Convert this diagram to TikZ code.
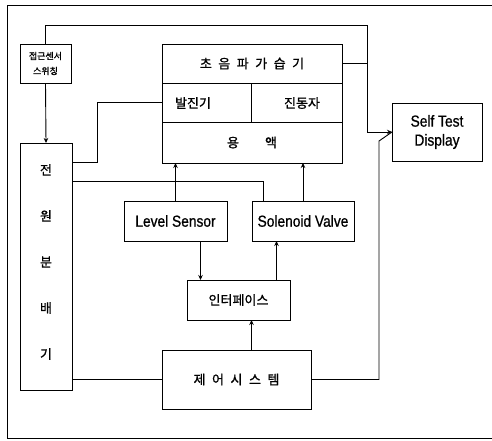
\documentclass[tikz,border=0pt]{standalone}
\usepackage{fontspec}
\setmainfont{Liberation Sans}[FakeStretch=0.86, FakeBold=0.8]
\newfontfamily\kr{Noto Sans CJK KR}[FakeBold=1]
\usetikzlibrary{arrows.meta,calc}

\tikzset{
  blk/.style={draw, line width=0.9pt, inner sep=0pt, outer sep=0pt},
  lbl/.style={font=\fontsize{16}{19}\selectfont, align=center},
  krl/.style={font=\kr\fontsize{13}{15}\selectfont, align=center},
  wire/.style={line width=0.9pt},
  arr/.style={wire, -{Stealth[length=5pt,width=4.5pt]}}
}

\begin{document}
\begin{tikzpicture}[x=1pt, y=-1pt]

    \useasboundingbox (0,0) rectangle (492,440);

    % Outer frame
    \draw[wire] (492,5) -- (7,5) -- (7,438) -- (492,438);

    % Left column: sensor switch and power distributor
    \node[blk, minimum width=51, minimum height=39, krl,
          font=\kr\fontsize{9}{15}\selectfont] (sw) at (45.5,63.5) {접근센서\\스위칭};
    \node[blk, minimum width=52, minimum height=247] (pwr) at (46,266.5) {};
    \node[krl] (pwrtxt) at (46,262) {전\\[31pt]원\\[31pt]분\\[31pt]배\\[31pt]기};

    % Humidifier block
    \node[blk, minimum width=180, minimum height=39, krl] (hum) at (252,63.5) {초\enspace 음\enspace 파\enspace 가\enspace 습\enspace 기};
    \node[blk, minimum width=89, minimum height=39] (osc) at (206.5,102.5) {};
    \node[blk, minimum width=91, minimum height=39] (vib) at (296.5,102.5) {};
    \node[blk, minimum width=180, minimum height=41, krl] (liq) at (252,142.5) {용\hspace{2em}액};
    \node[krl] (osctxt) at (193,103) {발진기};
    \node[krl] (vibtxt) at (302,103) {진동자};

    % Sensor, valve, interface, control
    \node[blk, minimum width=103, minimum height=40, lbl] (level) at (175.5,221) {Level Sensor};
    \node[blk, minimum width=102, minimum height=40, lbl] (valve) at (303,221) {Solenoid Valve};
    \node[blk, minimum width=103, minimum height=40, krl] (iface) at (238.5,300) {인터페이스};
    \node[blk, minimum width=149, minimum height=59, krl] (ctrl) at (236.5,379.5) {제\enspace 어\enspace 시\enspace 스\enspace 템};

    % Display
    \node[blk, minimum width=90, minimum height=58, lbl] (disp) at (437,132) {Self Test\\Display};

    % Switch to display, with humidifier tap
    \coordinate (tr) at (367,25);
    \draw[arr] (sw.north) |- (tr) |- (disp.west);
    \draw[wire] (hum.east) -- (hum.east -| tr);

    % Switch to power
    \draw[arr] (sw.south) -- (pwr.north);

    % Power lines
    \draw[wire] ($(pwr.north east)+(0,19)$) -- ++(25,0) |- (osc.west);
    \draw[wire] ($(pwr.north east)+(0,38)$) -| ($(valve.north west)+(11,0)$);
    \draw[wire] (ctrl.west) -- (ctrl.west -| pwr.east);

    % Sensor and valve to liquid
    \draw[arr] (level.north) -- (level.north |- liq.south);
    \draw[arr] (valve.north) -- (valve.north |- liq.south);

    % Interface links
    \draw[arr] ([xshift=25pt]level.south) -- ([xshift=25pt]level.south |- iface.north);
    \draw[arr] ([xshift=38pt]iface.north) -- ([xshift=38pt]iface.north |- valve.south);
    \draw[arr] ([xshift=15pt]ctrl.north) -- ([xshift=15pt]ctrl.north |- iface.south);

    % Control to display
    \coordinate (bend) at (379,141);
    \draw[wire] (ctrl.east) -| (bend) -- (disp.west);

\end{tikzpicture}
\end{document}
